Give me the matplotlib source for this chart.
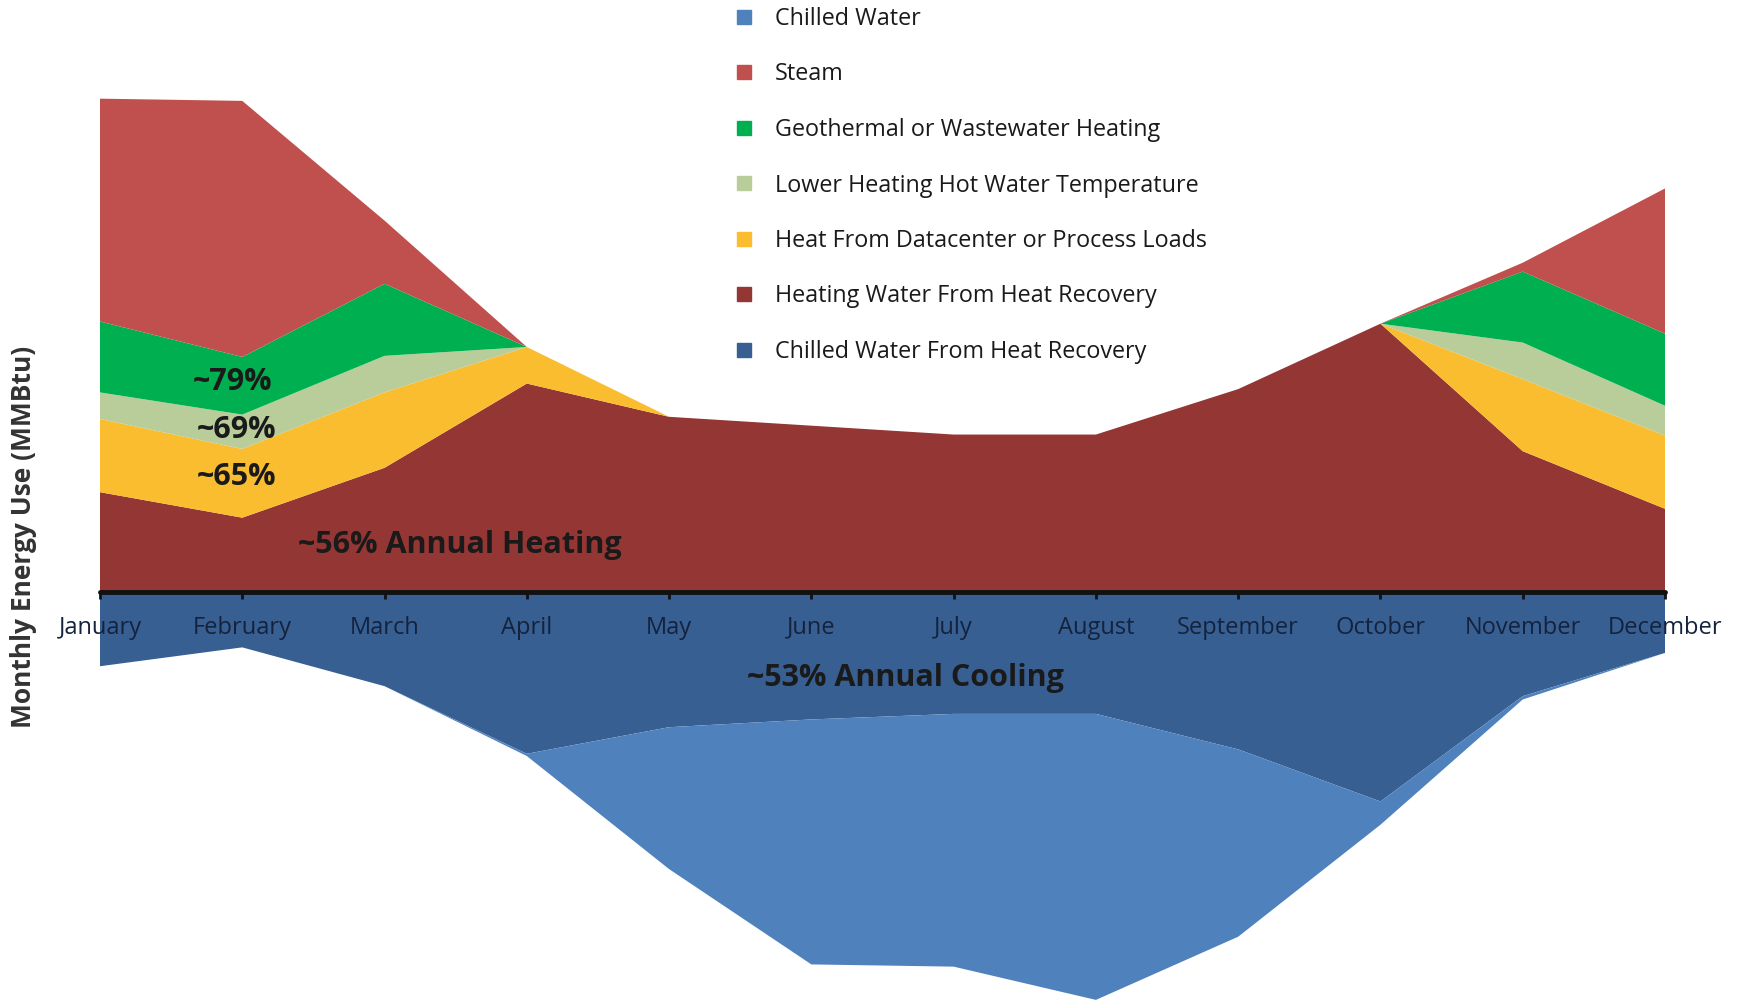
import numpy as np
import matplotlib
matplotlib.use("Agg")
import matplotlib.pyplot as plt
from matplotlib.lines import Line2D

plt.rcParams['font.family'] = ['Open Sans', 'DejaVu Sans']

#### Data (arbitrary MMBtu units) ####

months = ['January', 'February', 'March', 'April', 'May', 'June', 'July',
          'August', 'September', 'October', 'November', 'December']

# heating side, stacked from the axis upwards
heat_recovery_hw = [90, 67, 112, 188, 158, 150, 142, 142, 183, 242, 127, 75]
datacenter = [66, 62, 68, 33, 0, 0, 0, 0, 0, 0, 65, 66]
lower_hw_temp = [24, 31, 33, 0, 0, 0, 0, 0, 0, 0, 33, 27]
geothermal = [64, 52, 65, 0, 0, 0, 0, 0, 0, 0, 64, 65]
steam = [201, 231, 57, 0, 0, 0, 0, 0, 0, 0, 8, 131]

# cooling side, stacked from the axis downwards
heat_recovery_chw = [67, 50, 85, 146, 122, 115, 110, 110, 142, 189, 94, 55]
chilled_water = [0, 0, 0, 2, 128, 221, 228, 258, 169, 21, 3, 0]

legend_labels = ['Chilled Water', 'Steam', 'Geothermal or Wastewater Heating',
                 'Lower Heating Hot Water Temperature',
                 'Heat From Datacenter or Process Loads',
                 'Heating Water From Heat Recovery',
                 'Chilled Water From Heat Recovery']

#### Colours ####

c_chw = '#4f81bd'
c_steam = '#c0504d'
c_geo = '#00b050'
c_lowhw = '#b9cd9b'
c_dc = '#fbbd30'
c_hrhw = '#943634'
c_hrchw = '#375f92'

#### Figure ####

W, H = 1737, 1001
fig = plt.figure(figsize=(W / 100, H / 100), dpi=100)
x0, x1 = 100, 1665
ax = fig.add_axes([x0 / W, 0, (x1 - x0) / W, 1])

x = np.arange(len(months))

ax.stackplot(x, heat_recovery_hw, datacenter, lower_hw_temp, geothermal, steam,
             colors=[c_hrhw, c_dc, c_lowhw, c_geo, c_steam], lw=0)
ax.stackplot(x, -np.array(heat_recovery_chw), -np.array(chilled_water),
             colors=[c_hrchw, c_chw], lw=0)

ax.set_xlim(0, 11)
ax.set_ylim(-369, 534)

# x axis drawn on the zero line
for s in ['top', 'right', 'left']:
    ax.spines[s].set_visible(False)
ax.spines['bottom'].set_position(('data', 0))
ax.spines['bottom'].set_linewidth(3.5)
ax.spines['bottom'].set_color('#111111')
ax.spines['bottom'].set_capstyle('round')
ax.set_yticks([])
ax.set_xticks(x)
ax.set_xticklabels(months, fontsize=17, color='#14223d')
ax.tick_params(axis='x', direction='out', length=5, width=2, color='#111111', pad=12)
for t in ax.get_xticklabels():
    t.set_zorder(5)

# annotations
txt = dict(fontweight='bold', color='#1a1a1a', ha='center', va='center', fontsize=22)
ax.text(0.93, 189, '~79%', **txt)
ax.text(0.96, 146, '~69%', **txt)
ax.text(0.96, 104, '~65%', **txt)
ax.text(2.53, 42, '~56% Annual Heating', **txt)
ax.text(5.66, -78, '~53% Annual Cooling', **txt)

fig.text(24 / W, 1 - 537 / H, 'Monthly Energy Use (MMBtu)', rotation=90,
         ha='center', va='center', fontsize=19, fontweight='bold', color='#333333')

# legend
handles = [Line2D([], [], marker='s', ls='', color=c, markersize=10)
           for c in [c_chw, c_steam, c_geo, c_lowhw, c_dc, c_hrhw, c_hrchw]]
fig.legend(handles, legend_labels, loc='upper left',
           bbox_to_anchor=(711 / W, 1 + 14 / H), frameon=False, fontsize=16.8,
           labelspacing=1.35, handletextpad=0.85, handlelength=1.0,
           labelcolor='#1a1a1a')

fig.savefig('out.png', dpi=100)
